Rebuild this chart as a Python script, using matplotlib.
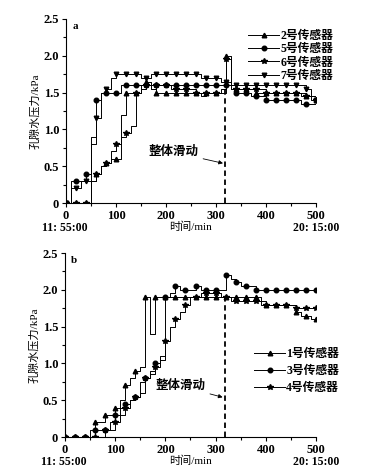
import numpy as np
import matplotlib
matplotlib.use('Agg')
import matplotlib.pyplot as plt
from matplotlib.ticker import MultipleLocator

plt.rcParams['font.family'] = ['Liberation Serif', 'Noto Sans CJK SC']
plt.rcParams['font.weight'] = 'bold'

# time axis, 10-minute readings
t = np.arange(0, 501, 10)

# panel a
s2 = [0, 0, 0, 0, 0, 0.3, 0.4, 0.5, 0.55, 0.6, 0.6, 1.2, 1.5, 1.5, 1.5, 1.6, 1.65, 1.55, 1.5, 1.5,
      1.5, 1.5, 1.5, 1.5, 1.5, 1.5, 1.5, 1.5, 1.5, 1.5, 1.5, 1.5, 2.0, 1.55, 1.55, 1.55, 1.55, 1.55, 1.5, 1.5,
      1.5, 1.5, 1.5, 1.5, 1.5, 1.5, 1.5, 1.5, 1.45, 1.45, 1.4]
s5 = [0, 0.3, 0.3, 0.3, 0.4, 0.9, 1.4, 1.5, 1.5, 1.5, 1.5, 1.6, 1.6, 1.6, 1.6, 1.6, 1.6, 1.6, 1.6, 1.6,
      1.6, 1.6, 1.6, 1.6, 1.6, 1.6, 1.6, 1.6, 1.6, 1.6, 1.6, 1.6, 1.6, 1.55, 1.5, 1.5, 1.5, 1.45, 1.45, 1.45,
      1.4, 1.4, 1.4, 1.4, 1.4, 1.4, 1.4, 1.35, 1.35, 1.35, 1.4]
s6 = [0, 0, 0, 0, 0, 0.3, 0.4, 0.5, 0.55, 0.7, 0.8, 0.9, 0.95, 1.05, 1.5, 1.55, 1.6, 1.55, 1.6, 1.6,
      1.6, 1.55, 1.55, 1.55, 1.55, 1.55, 1.5, 1.45, 1.5, 1.5, 1.5, 1.55, 1.95, 1.6, 1.55, 1.55, 1.55, 1.55, 1.55, 1.55,
      1.5, 1.5, 1.5, 1.5, 1.5, 1.5, 1.5, 1.45, 1.45, 1.4, 1.4]
s7 = [0, 0.2, 0.2, 0.3, 0.3, 0.8, 1.15, 1.5, 1.55, 1.7, 1.75, 1.75, 1.75, 1.75, 1.75, 1.7, 1.7, 1.75, 1.75, 1.75,
      1.75, 1.75, 1.75, 1.75, 1.75, 1.75, 1.75, 1.7, 1.7, 1.7, 1.7, 1.65, 1.65, 1.6, 1.6, 1.6, 1.6, 1.6, 1.6, 1.6,
      1.6, 1.6, 1.6, 1.6, 1.6, 1.6, 1.6, 1.6, 1.55, 1.45, 1.4]

# panel b
s1 = [0, 0, 0, 0, 0, 0.1, 0.2, 0.2, 0.3, 0.3, 0.4, 0.5, 0.7, 0.8, 0.9, 0.95, 1.9, 1.4, 1.9, 1.9,
      1.9, 1.9, 1.9, 1.9, 1.9, 1.9, 1.9, 1.9, 1.9, 1.9, 1.9, 1.9, 1.9, 1.9, 1.9, 1.9, 1.9, 1.9, 1.9, 1.85,
      1.8, 1.8, 1.8, 1.8, 1.8, 1.8, 1.7, 1.65, 1.65, 1.6, 1.6]
s3 = [0, 0, 0, 0, 0, 0, 0.1, 0.1, 0.1, 0.2, 0.3, 0.4, 0.45, 0.5, 0.55, 0.75, 0.8, 0.9, 1.0, 1.1,
      1.9, 1.95, 2.05, 2.0, 2.0, 2.0, 2.05, 2.0, 2.0, 2.0, 2.0, 2.0, 2.2, 2.15, 2.1, 2.05, 2.05, 2.05, 2.0, 2.0,
      2.0, 2.0, 2.0, 2.0, 2.0, 2.0, 2.0, 2.0, 2.0, 2.0, 2.0]
s4 = [0, 0, 0, 0, 0, 0, 0, 0, 0.1, 0.1, 0.2, 0.3, 0.4, 0.5, 0.55, 0.6, 0.8, 0.85, 0.95, 1.05,
      1.3, 1.5, 1.6, 1.7, 1.8, 1.9, 1.9, 1.95, 1.95, 1.95, 1.95, 1.9, 1.9, 1.85, 1.85, 1.85, 1.85, 1.85, 1.85, 1.8,
      1.8, 1.8, 1.8, 1.8, 1.8, 1.8, 1.75, 1.75, 1.75, 1.75, 1.75]

slide_t = 318

series_a = [(s2, '^', '2号传感器'), (s5, 'o', '5号传感器'), (s6, '*', '6号传感器'), (s7, 'v', '7号传感器')]
series_b = [(s1, '^', '1号传感器'), (s3, 'o', '3号传感器'), (s4, '*', '4号传感器')]

fig = plt.figure(figsize=(3.72, 4.73), dpi=100)
ax_a = fig.add_axes([66/372, 1 - 203/473, 250/372, 184/473])
ax_b = fig.add_axes([65/372, 1 - 437/473, 251/372, 184/473])


def draw(ax, series, tag, leg_anchor, leg_space, note_x, dash_top):
    for vals, mk, lab in series:
        ax.plot(t, vals, drawstyle='steps-post', color='black', lw=0.7,
                marker=mk, markevery=2, markersize=3.3 if mk != '*' else 4.3, label=lab)
    ax.vlines(slide_t, 0, dash_top, color='black', ls=(0, (3, 2)), lw=1.3)
    ax.annotate('整体滑动', xy=(slide_t - 4, 0.54), xytext=(note_x, 0.69),
                fontsize=9, ha='left', va='center',
                arrowprops=dict(arrowstyle='-|>', color='black', lw=0.6, mutation_scale=6,
                                shrinkA=1, shrinkB=0))
    ax.set_xlim(0, 500)
    ax.set_ylim(0, 2.5)
    ax.xaxis.set_major_locator(MultipleLocator(100))
    ax.xaxis.set_minor_locator(MultipleLocator(50))
    ax.yaxis.set_minor_locator(MultipleLocator(0.25))
    ax.set_yticks([0, 0.5, 1.0, 1.5, 2.0, 2.5])
    ax.set_yticklabels(['0', '0.5', '1.0', '1.5', '2.0', '2.5'])
    ax.tick_params(which='both', direction='out', labelsize=9, width=0.8, pad=2)
    ax.tick_params(which='major', length=3)
    ax.tick_params(which='minor', length=2)
    ax.spines['top'].set_visible(False)
    ax.spines['right'].set_visible(False)
    ax.set_ylabel('孔隙水压力/kPa', fontsize=8, labelpad=2)
    ax.set_xlabel('时间/min', fontsize=8, labelpad=0)
    ax.text(-0.005, -0.135, '11: 55:00', transform=ax.transAxes, fontsize=8.5, ha='center', va='center')
    ax.text(1.0, -0.135, '20: 15:00', transform=ax.transAxes, fontsize=8.5, ha='center', va='center')
    ax.text(0.025, 0.985, tag, transform=ax.transAxes, fontsize=8, va='top', ha='left')
    ax.legend(loc='upper left', bbox_to_anchor=leg_anchor, frameon=False, fontsize=8.5,
              handlelength=2.6, handletextpad=0.1, labelspacing=leg_space, borderaxespad=0,
              borderpad=0.2)


draw(ax_a, series_a, 'a', (0.72, 0.955), 0.12, 166, 1.55)
draw(ax_b, series_b, 'b', (0.745, 0.495), 0.4, 181, 1.9)

fig.savefig('out.png', dpi=100)
